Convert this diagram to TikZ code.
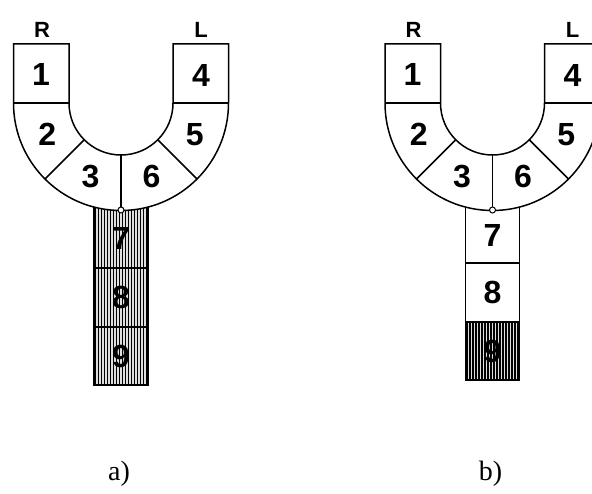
\documentclass[tikz,border=0pt]{standalone}
\usepackage{fontspec}
\setmainfont{Liberation Serif}
\newfontfamily\digitfont{Liberation Sans}
\newcommand\Ufork[7]{%
  % #1 cx, #2 line 7/8, #3 line 8/9, #4 bottom, #5 hatch top, #6 prefix, #7 caption
  \fill[gray!25] ({#1-27},#5) rectangle ({#1+27},#4);
  \foreach \i in {1.5,4.5,...,54} \draw[hatch] ({#1-27+\i},#5) -- ({#1-27+\i},#4);
  \path[ufill] ({#1-107.5},-44) -- ({#1-107.5},-103) arc[start angle=180,end angle=360,radius=107.5]
     -- ({#1+107.5},-44) -- ({#1+52},-44) -- ({#1+52},-103)
     arc[start angle=0,end angle=-180,radius=52] -- ({#1-52},-44) -- cycle;
  \draw[outline] ({#1-107.5},-103) -- ({#1-52},-103);
  \draw[outline] ({#1+52},-103) -- ({#1+107.5},-103);
  \draw[outline] ({#1+52*cos(225)},{-103+52*sin(225)}) -- ({#1+107.5*cos(225)},{-103+107.5*sin(225)});
  \draw[outline] ({#1+52*cos(315)},{-103+52*sin(315)}) -- ({#1+107.5*cos(315)},{-103+107.5*sin(315)});
  \draw[outline] (#1,-155) -- (#1,-210.5);
  \draw[outline] ({#1-27},-207) -- ({#1-27},#4) -- ({#1+27},#4) -- ({#1+27},-207);
  \draw[outline] ({#1-27},#2) -- ({#1+27},#2);
  \draw[outline] ({#1-27},#3) -- ({#1+27},#3);
  \draw[line width=1pt, fill=white] (#1,-210) circle[radius=3];
  \node[sidetext] (#6R) at ({#1-79},-30) {R};
  \node[sidetext] (#6L) at ({#1+80},-30) {L};
  \node[num] (#61) at ({#1-80},-74) {1};
  \node[num] (#64) at ({#1+80},-75) {4};
  \node[num] (#62) at ({#1+79.75*cos(202.5)},{-104+79.75*sin(202.5)}) {2};
  \node[num] (#63) at ({#1+79.75*cos(247.5)},{-103+79.75*sin(247.5)}) {3};
  \node[num] (#66) at ({#1+79.75*cos(292.5)},{-103+79.75*sin(292.5)}) {6};
  \node[num] (#65) at ({#1+79.75*cos(337.5)},{-104+79.75*sin(337.5)}) {5};
  \node[num] (#67) at (#1,{(-208+#2)/2}) {7};
  \node[num] (#68) at (#1,{(#2+#3)/2}) {8};
  \node[num] (#69) at (#1,{(#3+#4)/2}) {9};
  \node[captext] (#6cap) at ({#1-2},-474) {#7};
}
\begin{document}
\begin{tikzpicture}[x=1pt,y=1pt,
  outline/.style={line width=1.5pt, black},
  ufill/.style={fill=white, draw=black, line width=1.5pt},
  hatch/.style={line width=1.1pt, black},
  num/.style={font=\digitfont\bfseries\fontsize{32}{32}\selectfont, inner sep=0pt},
  sidetext/.style={font=\digitfont\bfseries\fontsize{22}{22}\selectfont, inner sep=0pt},
  captext/.style={font=\fontsize{28}{28}\selectfont, inner sep=0pt}]
\useasboundingbox (0,0) rectangle (592,-494);
\clip (0,0) rectangle (592,-494);
\Ufork{121}{-268}{-327}{-385}{-200}{a}{a)}
\Ufork{492.5}{-263}{-322}{-380}{-322}{b}{b)}
\end{tikzpicture}
\end{document}
